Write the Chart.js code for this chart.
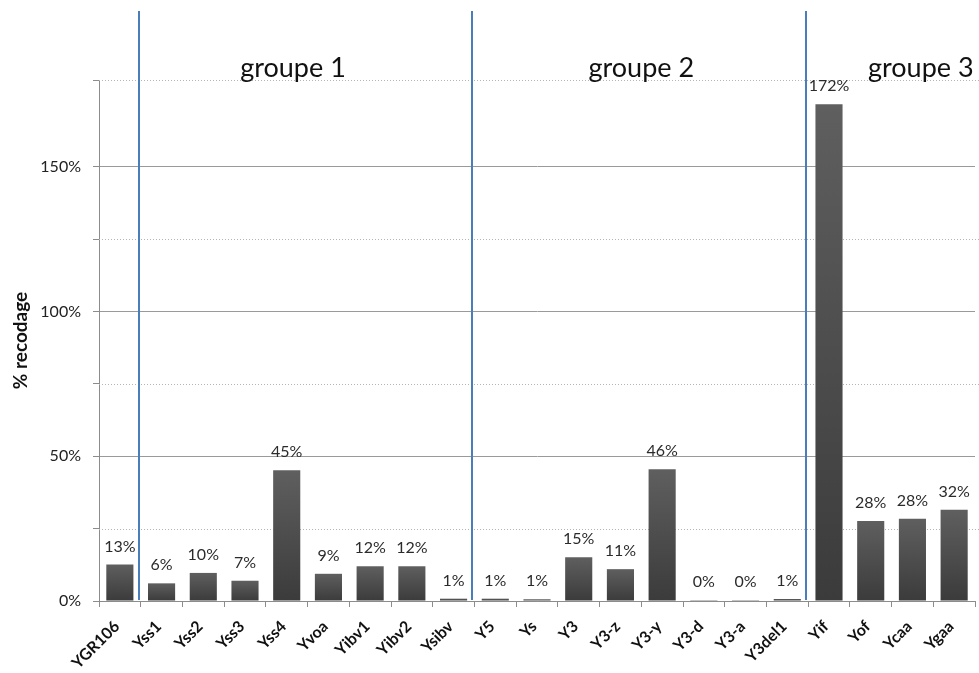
<!DOCTYPE html>
<html>
<head>
<meta charset="utf-8">
<script src="https://cdn.jsdelivr.net/npm/chart.js@4.4.1/dist/chart.umd.min.js"></script>
<style>
  html, body { margin: 0; padding: 0; background: #fff; }
  canvas { display: block; }
</style>
</head>
<body>
<canvas id="recodage" width="979" height="673"></canvas>
<script>
// categories and values
const constructs = ['YGR106', 'Yss1', 'Yss2', 'Yss3', 'Yss4', 'Yvoa', 'Yibv1', 'Yibv2', 'Ysibv',
  'Y5', 'Ys', 'Y3', 'Y3-z', 'Y3-y', 'Y3-d', 'Y3-a', 'Y3del1',
  'Yif', 'Yof', 'Ycaa', 'Ygaa'];
const recodage = [12.6, 6.1, 9.7, 7.0, 45.2, 9.4, 12.0, 12.0, 0.8,
  0.8, 0.6, 15.1, 11.0, 45.5, 0.3, 0.3, 0.7,
  171.6, 27.6, 28.4, 31.5];
const groupNames = ['groupe 1', 'groupe 2', 'groupe 3'];
const groupStarts = [1, 9, 17];   // first category index of each group

const FONT = 'Lato, "Open Sans", sans-serif';

// dotted minor grid lines (25%, 75%, ...) - the library only dashes whole scales
const minorGrid = {
    id: 'minorGrid',
    beforeDatasetsDraw(chart) {
        const { ctx, chartArea, scales: { y } } = chart;
        ctx.save();
        ctx.strokeStyle = '#b4b4b4';
        ctx.lineWidth = 1;
        ctx.setLineDash([1, 2]);
        y.ticks.forEach(t => {
            if (t.value % 50 === 0) return;
            const py = Math.round(y.getPixelForValue(t.value)) + 0.5;
            ctx.beginPath();
            ctx.moveTo(chartArea.left, py);
            ctx.lineTo(chart.width, py);
            ctx.stroke();
        });
        ctx.restore();
    }
};

// value labels above the bars
const valueLabels = {
    id: 'valueLabels',
    afterDatasetsDraw(chart) {
        const { ctx } = chart;
        const meta = chart.getDatasetMeta(0);
        ctx.save();
        ctx.font = '16px ' + FONT;
        ctx.fillStyle = '#2b2b2b';
        ctx.textAlign = 'center';
        ctx.textBaseline = 'alphabetic';
        meta.data.forEach((bar, i) => {
            ctx.fillText(Math.round(recodage[i]) + '%', bar.x, bar.y - 13);
        });
        ctx.restore();
    }
};

// blue separators + group titles
const groupMarks = {
    id: 'groupMarks',
    afterDatasetsDraw(chart, args, opts) {
        const { ctx, scales: { x, y } } = chart;
        ctx.save();
        ctx.strokeStyle = '#4a7ebb';
        ctx.lineWidth = 2;
        groupStarts.forEach(s => {
            const px = Math.round((x.getPixelForValue(s - 1) + x.getPixelForValue(s)) / 2) - 2;
            ctx.beginPath();
            ctx.moveTo(px, 11);
            ctx.lineTo(px, y.getPixelForValue(0) - 1);
            ctx.stroke();
        });
        ctx.font = '27px ' + FONT;
        ctx.fillStyle = '#111';
        ctx.textAlign = 'center';
        groupNames.forEach((name, i) => {
            ctx.fillText(name, x.getPixelForValue(opts.centers[i]), 77);
        });
        ctx.restore();
    }
};

const ctxRec = document.getElementById('recodage').getContext('2d');
new Chart(ctxRec, {
    type: 'bar',
    data: {
        labels: constructs,
        datasets: [{
            data: recodage,
            backgroundColor: (c) => {
                const chart = c.chart;
                const y = chart.scales.y;
                if (!chart.chartArea || !y) return '#505050';
                const top = y.getPixelForValue(c.raw);
                const bottom = y.getPixelForValue(0);
                if (!isFinite(top) || bottom - top < 1) return '#5a5a5a';
                const g = chart.ctx.createLinearGradient(0, top, 0, bottom);
                g.addColorStop(0, '#5f5f5f');
                g.addColorStop(1, '#3b3b3b');
                return g;
            },
            borderWidth: 0,
            barPercentage: 0.65,
            categoryPercentage: 1
        }]
    },
    options: {
        responsive: false,
        animation: false,
        layout: { padding: { top: 80, right: 4, left: 0, bottom: 0 } },
        plugins: {
            legend: { display: false },
            tooltip: { enabled: false },
            groupMarks: { centers: [4.15, 12.5, 19.2] }
        },
        scales: {
            x: {
                grid: { drawOnChartArea: false, drawTicks: true, tickLength: 6, tickColor: '#8c8c8c', offset: true },
                border: { color: '#8c8c8c' },
                ticks: {
                    autoSkip: false, minRotation: 45, maxRotation: 45, padding: 10, labelOffset: -3,
                    color: '#111', font: { family: FONT, size: 16, weight: 'bold' }
                },
                afterFit: (s) => { s.height = 72; }
            },
            y: {
                min: 0, max: 180,
                grid: {
                    color: (c) => c.tick && c.tick.value % 50 === 0 ? '#9a9a9a' : 'rgba(0,0,0,0)',
                    tickColor: '#8c8c8c', tickLength: 6
                },
                border: { color: '#8c8c8c' },
                ticks: {
                    stepSize: 25, padding: 12, color: '#222',
                    font: { family: FONT, size: 16 },
                    callback: (v) => v % 50 === 0 ? v + '%' : ''
                },
                title: {
                    display: true, text: '% recodage', color: '#111',
                    font: { family: FONT, size: 19, weight: 'bold' },
                    padding: { top: 9, bottom: 0 }
                },
                afterFit: (s) => { s.width = 99; }
            }
        }
    },
    plugins: [minorGrid, valueLabels, groupMarks]
});
</script>
</body>
</html>
